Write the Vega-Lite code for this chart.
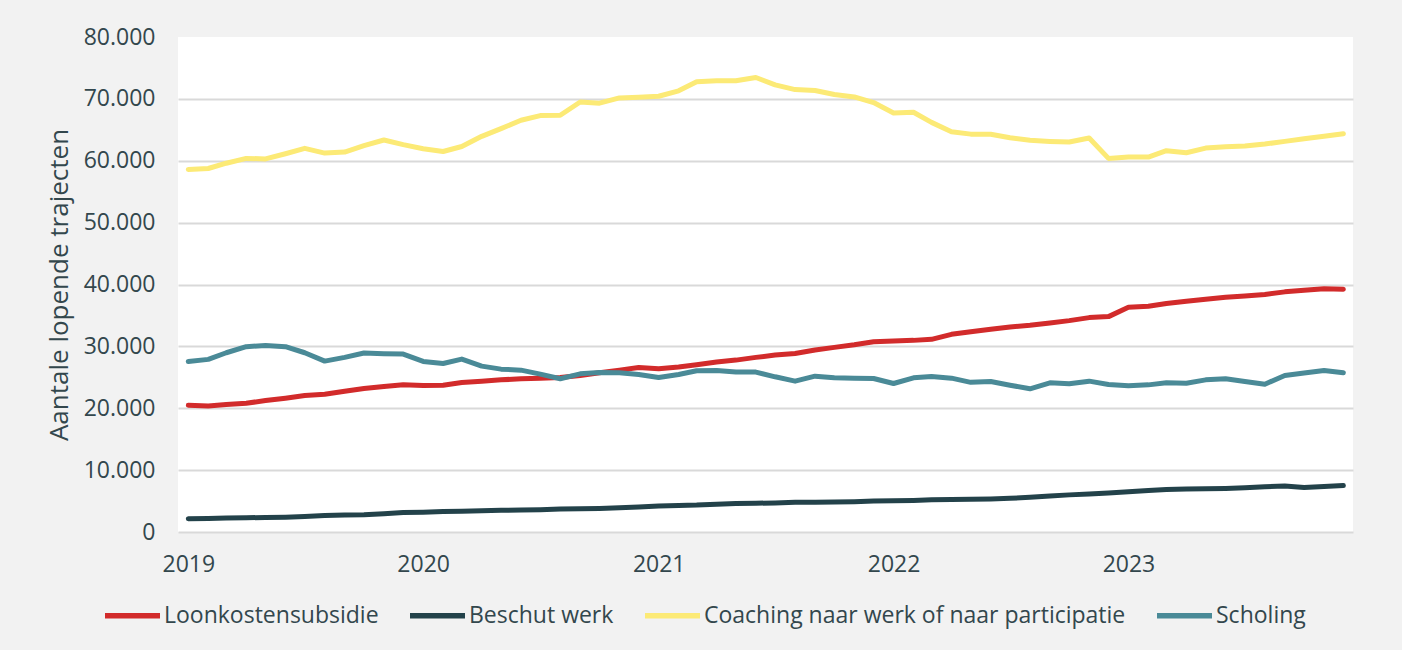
{
  "$schema": "https://vega.github.io/schema/vega-lite/v6.json",
  "width": 1175,
  "height": 495,
  "autosize": {"type": "none"},
  "padding": {"left": 178, "top": 37, "right": 49, "bottom": 118},
  "background": "#f2f2f2",
  "config": {
    "view": {"fill": "white", "stroke": null},
    "font": "Open Sans",
    "axis": {
      "labelFont": "Open Sans",
      "labelFontSize": 23,
      "labelColor": "#33474d",
      "titleFont": "Open Sans",
      "titleFontSize": 26,
      "titleColor": "#33474d",
      "titleFontWeight": "normal",
      "domain": false,
      "ticks": false,
      "tickSize": 0,
      "gridColor": "#d9d9d9",
      "gridWidth": 2
    }
  },
  "data": {"values": [
    {"date":"2019-01-01","series":"Loonkostensubsidie","value":20490},
    {"date":"2019-02-01","series":"Loonkostensubsidie","value":20380},
    {"date":"2019-03-01","series":"Loonkostensubsidie","value":20590},
    {"date":"2019-04-01","series":"Loonkostensubsidie","value":20810},
    {"date":"2019-05-01","series":"Loonkostensubsidie","value":21240},
    {"date":"2019-06-01","series":"Loonkostensubsidie","value":21620},
    {"date":"2019-07-01","series":"Loonkostensubsidie","value":22050},
    {"date":"2019-08-01","series":"Loonkostensubsidie","value":22270},
    {"date":"2019-09-01","series":"Loonkostensubsidie","value":22760},
    {"date":"2019-10-01","series":"Loonkostensubsidie","value":23190},
    {"date":"2019-11-01","series":"Loonkostensubsidie","value":23510},
    {"date":"2019-12-01","series":"Loonkostensubsidie","value":23780},
    {"date":"2020-01-01","series":"Loonkostensubsidie","value":23680},
    {"date":"2020-02-01","series":"Loonkostensubsidie","value":23730},
    {"date":"2020-03-01","series":"Loonkostensubsidie","value":24160},
    {"date":"2020-04-01","series":"Loonkostensubsidie","value":24380},
    {"date":"2020-05-01","series":"Loonkostensubsidie","value":24590},
    {"date":"2020-06-01","series":"Loonkostensubsidie","value":24760},
    {"date":"2020-07-01","series":"Loonkostensubsidie","value":24860},
    {"date":"2020-08-01","series":"Loonkostensubsidie","value":24970},
    {"date":"2020-09-01","series":"Loonkostensubsidie","value":25300},
    {"date":"2020-10-01","series":"Loonkostensubsidie","value":25730},
    {"date":"2020-11-01","series":"Loonkostensubsidie","value":26160},
    {"date":"2020-12-01","series":"Loonkostensubsidie","value":26590},
    {"date":"2021-01-01","series":"Loonkostensubsidie","value":26380},
    {"date":"2021-02-01","series":"Loonkostensubsidie","value":26650},
    {"date":"2021-03-01","series":"Loonkostensubsidie","value":27030},
    {"date":"2021-04-01","series":"Loonkostensubsidie","value":27460},
    {"date":"2021-05-01","series":"Loonkostensubsidie","value":27780},
    {"date":"2021-06-01","series":"Loonkostensubsidie","value":28220},
    {"date":"2021-07-01","series":"Loonkostensubsidie","value":28590},
    {"date":"2021-08-01","series":"Loonkostensubsidie","value":28860},
    {"date":"2021-09-01","series":"Loonkostensubsidie","value":29410},
    {"date":"2021-10-01","series":"Loonkostensubsidie","value":29840},
    {"date":"2021-11-01","series":"Loonkostensubsidie","value":30270},
    {"date":"2021-12-01","series":"Loonkostensubsidie","value":30760},
    {"date":"2022-01-01","series":"Loonkostensubsidie","value":30860},
    {"date":"2022-02-01","series":"Loonkostensubsidie","value":30970},
    {"date":"2022-03-01","series":"Loonkostensubsidie","value":31140},
    {"date":"2022-04-01","series":"Loonkostensubsidie","value":31950},
    {"date":"2022-05-01","series":"Loonkostensubsidie","value":32380},
    {"date":"2022-06-01","series":"Loonkostensubsidie","value":32760},
    {"date":"2022-07-01","series":"Loonkostensubsidie","value":33140},
    {"date":"2022-08-01","series":"Loonkostensubsidie","value":33410},
    {"date":"2022-09-01","series":"Loonkostensubsidie","value":33780},
    {"date":"2022-10-01","series":"Loonkostensubsidie","value":34160},
    {"date":"2022-11-01","series":"Loonkostensubsidie","value":34650},
    {"date":"2022-12-01","series":"Loonkostensubsidie","value":34810},
    {"date":"2023-01-01","series":"Loonkostensubsidie","value":36320},
    {"date":"2023-02-01","series":"Loonkostensubsidie","value":36490},
    {"date":"2023-03-01","series":"Loonkostensubsidie","value":36920},
    {"date":"2023-04-01","series":"Loonkostensubsidie","value":37300},
    {"date":"2023-05-01","series":"Loonkostensubsidie","value":37620},
    {"date":"2023-06-01","series":"Loonkostensubsidie","value":37950},
    {"date":"2023-07-01","series":"Loonkostensubsidie","value":38160},
    {"date":"2023-08-01","series":"Loonkostensubsidie","value":38380},
    {"date":"2023-09-01","series":"Loonkostensubsidie","value":38810},
    {"date":"2023-10-01","series":"Loonkostensubsidie","value":39080},
    {"date":"2023-11-01","series":"Loonkostensubsidie","value":39300},
    {"date":"2023-12-01","series":"Loonkostensubsidie","value":39240},
    {"date":"2019-01-01","series":"Beschut werk","value":2150},
    {"date":"2019-02-01","series":"Beschut werk","value":2200},
    {"date":"2019-03-01","series":"Beschut werk","value":2250},
    {"date":"2019-04-01","series":"Beschut werk","value":2300},
    {"date":"2019-05-01","series":"Beschut werk","value":2350},
    {"date":"2019-06-01","series":"Beschut werk","value":2400},
    {"date":"2019-07-01","series":"Beschut werk","value":2500},
    {"date":"2019-08-01","series":"Beschut werk","value":2650},
    {"date":"2019-09-01","series":"Beschut werk","value":2750},
    {"date":"2019-10-01","series":"Beschut werk","value":2800},
    {"date":"2019-11-01","series":"Beschut werk","value":2950},
    {"date":"2019-12-01","series":"Beschut werk","value":3150},
    {"date":"2020-01-01","series":"Beschut werk","value":3200},
    {"date":"2020-02-01","series":"Beschut werk","value":3300},
    {"date":"2020-03-01","series":"Beschut werk","value":3350},
    {"date":"2020-04-01","series":"Beschut werk","value":3450},
    {"date":"2020-05-01","series":"Beschut werk","value":3500},
    {"date":"2020-06-01","series":"Beschut werk","value":3550},
    {"date":"2020-07-01","series":"Beschut werk","value":3600},
    {"date":"2020-08-01","series":"Beschut werk","value":3700},
    {"date":"2020-09-01","series":"Beschut werk","value":3750},
    {"date":"2020-10-01","series":"Beschut werk","value":3800},
    {"date":"2020-11-01","series":"Beschut werk","value":3900},
    {"date":"2020-12-01","series":"Beschut werk","value":4050},
    {"date":"2021-01-01","series":"Beschut werk","value":4200},
    {"date":"2021-02-01","series":"Beschut werk","value":4300},
    {"date":"2021-03-01","series":"Beschut werk","value":4350},
    {"date":"2021-04-01","series":"Beschut werk","value":4500},
    {"date":"2021-05-01","series":"Beschut werk","value":4600},
    {"date":"2021-06-01","series":"Beschut werk","value":4650},
    {"date":"2021-07-01","series":"Beschut werk","value":4700},
    {"date":"2021-08-01","series":"Beschut werk","value":4800},
    {"date":"2021-09-01","series":"Beschut werk","value":4800},
    {"date":"2021-10-01","series":"Beschut werk","value":4850},
    {"date":"2021-11-01","series":"Beschut werk","value":4900},
    {"date":"2021-12-01","series":"Beschut werk","value":5000},
    {"date":"2022-01-01","series":"Beschut werk","value":5050},
    {"date":"2022-02-01","series":"Beschut werk","value":5100},
    {"date":"2022-03-01","series":"Beschut werk","value":5200},
    {"date":"2022-04-01","series":"Beschut werk","value":5250},
    {"date":"2022-05-01","series":"Beschut werk","value":5300},
    {"date":"2022-06-01","series":"Beschut werk","value":5350},
    {"date":"2022-07-01","series":"Beschut werk","value":5450},
    {"date":"2022-08-01","series":"Beschut werk","value":5600},
    {"date":"2022-09-01","series":"Beschut werk","value":5800},
    {"date":"2022-10-01","series":"Beschut werk","value":6000},
    {"date":"2022-11-01","series":"Beschut werk","value":6150},
    {"date":"2022-12-01","series":"Beschut werk","value":6300},
    {"date":"2023-01-01","series":"Beschut werk","value":6500},
    {"date":"2023-02-01","series":"Beschut werk","value":6700},
    {"date":"2023-03-01","series":"Beschut werk","value":6850},
    {"date":"2023-04-01","series":"Beschut werk","value":6950},
    {"date":"2023-05-01","series":"Beschut werk","value":7000},
    {"date":"2023-06-01","series":"Beschut werk","value":7050},
    {"date":"2023-07-01","series":"Beschut werk","value":7150},
    {"date":"2023-08-01","series":"Beschut werk","value":7300},
    {"date":"2023-09-01","series":"Beschut werk","value":7450},
    {"date":"2023-10-01","series":"Beschut werk","value":7200},
    {"date":"2023-11-01","series":"Beschut werk","value":7350},
    {"date":"2023-12-01","series":"Beschut werk","value":7500},
    {"date":"2019-01-01","series":"Coaching naar werk of naar participatie","value":58600},
    {"date":"2019-02-01","series":"Coaching naar werk of naar participatie","value":58750},
    {"date":"2019-03-01","series":"Coaching naar werk of naar participatie","value":59600},
    {"date":"2019-04-01","series":"Coaching naar werk of naar participatie","value":60380},
    {"date":"2019-05-01","series":"Coaching naar werk of naar participatie","value":60300},
    {"date":"2019-06-01","series":"Coaching naar werk of naar participatie","value":61130},
    {"date":"2019-07-01","series":"Coaching naar werk of naar participatie","value":62000},
    {"date":"2019-08-01","series":"Coaching naar werk of naar participatie","value":61240},
    {"date":"2019-09-01","series":"Coaching naar werk of naar participatie","value":61400},
    {"date":"2019-10-01","series":"Coaching naar werk of naar participatie","value":62430},
    {"date":"2019-11-01","series":"Coaching naar werk of naar participatie","value":63350},
    {"date":"2019-12-01","series":"Coaching naar werk of naar participatie","value":62600},
    {"date":"2020-01-01","series":"Coaching naar werk of naar participatie","value":61950},
    {"date":"2020-02-01","series":"Coaching naar werk of naar participatie","value":61500},
    {"date":"2020-03-01","series":"Coaching naar werk of naar participatie","value":62300},
    {"date":"2020-04-01","series":"Coaching naar werk of naar participatie","value":63950},
    {"date":"2020-05-01","series":"Coaching naar werk of naar participatie","value":65200},
    {"date":"2020-06-01","series":"Coaching naar werk of naar participatie","value":66540},
    {"date":"2020-07-01","series":"Coaching naar werk of naar participatie","value":67300},
    {"date":"2020-08-01","series":"Coaching naar werk of naar participatie","value":67350},
    {"date":"2020-09-01","series":"Coaching naar werk of naar participatie","value":69500},
    {"date":"2020-10-01","series":"Coaching naar werk of naar participatie","value":69300},
    {"date":"2020-11-01","series":"Coaching naar werk of naar participatie","value":70160},
    {"date":"2020-12-01","series":"Coaching naar werk of naar participatie","value":70270},
    {"date":"2021-01-01","series":"Coaching naar werk of naar participatie","value":70430},
    {"date":"2021-02-01","series":"Coaching naar werk of naar participatie","value":71300},
    {"date":"2021-03-01","series":"Coaching naar werk of naar participatie","value":72760},
    {"date":"2021-04-01","series":"Coaching naar werk of naar participatie","value":72920},
    {"date":"2021-05-01","series":"Coaching naar werk of naar participatie","value":72920},
    {"date":"2021-06-01","series":"Coaching naar werk of naar participatie","value":73460},
    {"date":"2021-07-01","series":"Coaching naar werk of naar participatie","value":72270},
    {"date":"2021-08-01","series":"Coaching naar werk of naar participatie","value":71500},
    {"date":"2021-09-01","series":"Coaching naar werk of naar participatie","value":71350},
    {"date":"2021-10-01","series":"Coaching naar werk of naar participatie","value":70700},
    {"date":"2021-11-01","series":"Coaching naar werk of naar participatie","value":70320},
    {"date":"2021-12-01","series":"Coaching naar werk of naar participatie","value":69400},
    {"date":"2022-01-01","series":"Coaching naar werk of naar participatie","value":67730},
    {"date":"2022-02-01","series":"Coaching naar werk of naar participatie","value":67840},
    {"date":"2022-03-01","series":"Coaching naar werk of naar participatie","value":66200},
    {"date":"2022-04-01","series":"Coaching naar werk of naar participatie","value":64700},
    {"date":"2022-05-01","series":"Coaching naar werk of naar participatie","value":64300},
    {"date":"2022-06-01","series":"Coaching naar werk of naar participatie","value":64270},
    {"date":"2022-07-01","series":"Coaching naar werk of naar participatie","value":63730},
    {"date":"2022-08-01","series":"Coaching naar werk of naar participatie","value":63300},
    {"date":"2022-09-01","series":"Coaching naar werk of naar participatie","value":63130},
    {"date":"2022-10-01","series":"Coaching naar werk of naar participatie","value":63030},
    {"date":"2022-11-01","series":"Coaching naar werk of naar participatie","value":63680},
    {"date":"2022-12-01","series":"Coaching naar werk of naar participatie","value":60380},
    {"date":"2023-01-01","series":"Coaching naar werk of naar participatie","value":60600},
    {"date":"2023-02-01","series":"Coaching naar werk of naar participatie","value":60600},
    {"date":"2023-03-01","series":"Coaching naar werk of naar participatie","value":61620},
    {"date":"2023-04-01","series":"Coaching naar werk of naar participatie","value":61300},
    {"date":"2023-05-01","series":"Coaching naar werk of naar participatie","value":62050},
    {"date":"2023-06-01","series":"Coaching naar werk of naar participatie","value":62270},
    {"date":"2023-07-01","series":"Coaching naar werk of naar participatie","value":62380},
    {"date":"2023-08-01","series":"Coaching naar werk of naar participatie","value":62700},
    {"date":"2023-09-01","series":"Coaching naar werk of naar participatie","value":63130},
    {"date":"2023-10-01","series":"Coaching naar werk of naar participatie","value":63570},
    {"date":"2023-11-01","series":"Coaching naar werk of naar participatie","value":63950},
    {"date":"2023-12-01","series":"Coaching naar werk of naar participatie","value":64380},
    {"date":"2019-01-01","series":"Scholing","value":27570},
    {"date":"2019-02-01","series":"Scholing","value":27900},
    {"date":"2019-03-01","series":"Scholing","value":28970},
    {"date":"2019-04-01","series":"Scholing","value":29950},
    {"date":"2019-05-01","series":"Scholing","value":30160},
    {"date":"2019-06-01","series":"Scholing","value":29950},
    {"date":"2019-07-01","series":"Scholing","value":28970},
    {"date":"2019-08-01","series":"Scholing","value":27620},
    {"date":"2019-09-01","series":"Scholing","value":28220},
    {"date":"2019-10-01","series":"Scholing","value":28920},
    {"date":"2019-11-01","series":"Scholing","value":28810},
    {"date":"2019-12-01","series":"Scholing","value":28760},
    {"date":"2020-01-01","series":"Scholing","value":27570},
    {"date":"2020-02-01","series":"Scholing","value":27240},
    {"date":"2020-03-01","series":"Scholing","value":27950},
    {"date":"2020-04-01","series":"Scholing","value":26810},
    {"date":"2020-05-01","series":"Scholing","value":26320},
    {"date":"2020-06-01","series":"Scholing","value":26160},
    {"date":"2020-07-01","series":"Scholing","value":25510},
    {"date":"2020-08-01","series":"Scholing","value":24760},
    {"date":"2020-09-01","series":"Scholing","value":25560},
    {"date":"2020-10-01","series":"Scholing","value":25780},
    {"date":"2020-11-01","series":"Scholing","value":25730},
    {"date":"2020-12-01","series":"Scholing","value":25460},
    {"date":"2021-01-01","series":"Scholing","value":24970},
    {"date":"2021-02-01","series":"Scholing","value":25460},
    {"date":"2021-03-01","series":"Scholing","value":26050},
    {"date":"2021-04-01","series":"Scholing","value":26110},
    {"date":"2021-05-01","series":"Scholing","value":25840},
    {"date":"2021-06-01","series":"Scholing","value":25840},
    {"date":"2021-07-01","series":"Scholing","value":25080},
    {"date":"2021-08-01","series":"Scholing","value":24380},
    {"date":"2021-09-01","series":"Scholing","value":25190},
    {"date":"2021-10-01","series":"Scholing","value":24920},
    {"date":"2021-11-01","series":"Scholing","value":24860},
    {"date":"2021-12-01","series":"Scholing","value":24810},
    {"date":"2022-01-01","series":"Scholing","value":24000},
    {"date":"2022-02-01","series":"Scholing","value":24920},
    {"date":"2022-03-01","series":"Scholing","value":25140},
    {"date":"2022-04-01","series":"Scholing","value":24860},
    {"date":"2022-05-01","series":"Scholing","value":24190},
    {"date":"2022-06-01","series":"Scholing","value":24320},
    {"date":"2022-07-01","series":"Scholing","value":23730},
    {"date":"2022-08-01","series":"Scholing","value":23140},
    {"date":"2022-09-01","series":"Scholing","value":24110},
    {"date":"2022-10-01","series":"Scholing","value":23950},
    {"date":"2022-11-01","series":"Scholing","value":24380},
    {"date":"2022-12-01","series":"Scholing","value":23840},
    {"date":"2023-01-01","series":"Scholing","value":23620},
    {"date":"2023-02-01","series":"Scholing","value":23780},
    {"date":"2023-03-01","series":"Scholing","value":24110},
    {"date":"2023-04-01","series":"Scholing","value":24050},
    {"date":"2023-05-01","series":"Scholing","value":24590},
    {"date":"2023-06-01","series":"Scholing","value":24760},
    {"date":"2023-07-01","series":"Scholing","value":24320},
    {"date":"2023-08-01","series":"Scholing","value":23890},
    {"date":"2023-09-01","series":"Scholing","value":25300},
    {"date":"2023-10-01","series":"Scholing","value":25680},
    {"date":"2023-11-01","series":"Scholing","value":26110},
    {"date":"2023-12-01","series":"Scholing","value":25730}
  ]},
  "mark": {"type": "line", "strokeWidth": 5, "strokeCap": "round", "strokeJoin": "round"},
  "encoding": {
    "x": {
      "field": "date",
      "type": "temporal",
      "scale": {"type": "utc", "domain": [{"year": 2018, "month": 12, "date": 16, "utc": true}, {"year": 2023, "month": 12, "date": 16, "utc": true}]},
      "axis": {
        "title": null,
        "grid": false,
        "values": [
          {"year": 2019, "month": 1, "date": 1, "utc": true},
          {"year": 2020, "month": 1, "date": 1, "utc": true},
          {"year": 2021, "month": 1, "date": 1, "utc": true},
          {"year": 2022, "month": 1, "date": 1, "utc": true},
          {"year": 2023, "month": 1, "date": 1, "utc": true}
        ],
        "labelExpr": "utcFormat(datum.value, '%Y')",
        "labelPadding": 21,
        "labelFlush": false,
        "labelOverlap": false
      }
    },
    "y": {
      "field": "value",
      "type": "quantitative",
      "scale": {"domain": [0, 80000], "nice": false},
      "axis": {
        "title": "Aantale lopende trajecten",
        "values": [0, 10000, 20000, 30000, 40000, 50000, 60000, 70000, 80000],
        "labelExpr": "replace(format(datum.value, ','), ',', '.')",
        "labelPadding": 23,
        "titleX": -111,
        "titleY": 247.5,
        "titleAngle": -90,
        "titleAlign": "center",
        "titleBaseline": "alphabetic",
        "gridOpacity": {"condition": {"test": "datum.value === 80000", "value": 0}, "value": 1}
      }
    },
    "color": {
      "field": "series",
      "type": "nominal",
      "scale": {
        "domain": ["Loonkostensubsidie", "Beschut werk", "Coaching naar werk of naar participatie", "Scholing"],
        "range": ["#d22b2b", "#23424a", "#fcea76", "#4a8a97"]
      },
      "legend": {
        "orient": "none",
        "legendX": -76,
        "legendY": 548,
        "direction": "horizontal",
        "title": null,
        "symbolType": "stroke",
        "symbolSize": 3025,
        "symbolStrokeWidth": 5.5,
        "labelFont": "Open Sans",
        "labelFontSize": 23,
        "labelColor": "#33474d",
        "labelOffset": 1,
        "columnPadding": 20,
        "labelLimit": 0
      }
    }
  }
}
